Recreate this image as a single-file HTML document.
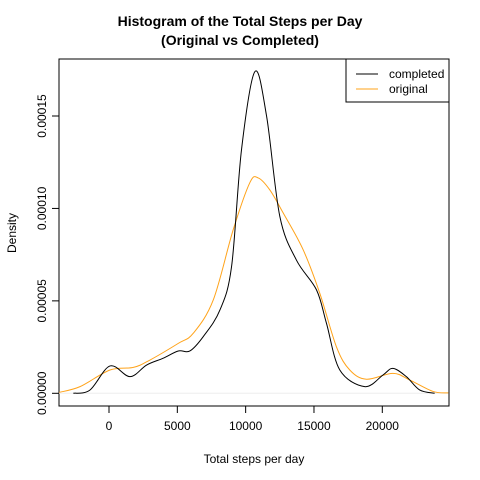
<!DOCTYPE html>
<html><head><meta charset="utf-8"><style>
body{margin:0;background:#fff}
svg{display:block;font-family:"Liberation Sans",Arial,sans-serif}
</style></head><body>
<svg id="c" width="480" height="480" viewBox="0 0 480 480">
<text x="240" y="26" text-anchor="middle" font-size="14" font-weight="bold">Histogram of the Total Steps per Day</text>
<text x="240" y="45" text-anchor="middle" font-size="14" font-weight="bold">(Original vs Completed)</text>
<rect x="59" y="59" width="390" height="347" fill="none" stroke="#000"/>
<g id="xaxis"></g>
<g id="yaxis"></g>
<g id="series"></g>
<text x="254" y="463" text-anchor="middle" font-size="12">Total steps per day</text>
<text transform="translate(16,233) rotate(-90)" text-anchor="middle" font-size="12">Density</text>
<g>
<rect x="346" y="59" width="103" height="43" fill="#fff" stroke="#000"/>
<line x1="356" y1="74" x2="378" y2="74" stroke="#000"/>
<text x="389" y="78" font-size="12">completed</text>
<line x1="356" y1="89" x2="378" y2="89" stroke="#ffa31a"/>
<text x="389" y="93" font-size="12">original</text>
</g>
</svg>
<script>
const xTicks=[0,5000,10000,15000,20000];
const yTicks=[0,0.00005,0.0001,0.00015];
const yTickLabels=["0.00000","0.00005","0.00010","0.00015"];
const completedX=[-2610,-1389,73,1535,2753,3970,5070,5920,6900,8115,8970,9700,10675,11530,12500,13720,15180,15910,16890,18710,20050,20780,21760,22730,23830];
const completedY=[0,0.18,1.48,0.9,1.53,1.9,2.29,2.29,3.07,4.5,6.86,13.2,17.4,15.0,9.57,7.2,5.6,3.8,1.26,0.36,0.99,1.35,0.9,0.18,0];
const originalX=[-3650,-2120,73,1780,3000,5070,6170,7630,9090,10310,10920,11770,12750,14210,15430,16650,17620,18840,20780,22000,23710,24830];
const originalY=[0.05,0.36,1.26,1.4,1.8,2.7,3.25,5.05,8.85,11.4,11.65,11.0,9.75,7.76,5.4,2.5,1.26,0.76,1.08,0.72,0.1,0.02];
const NS="http://www.w3.org/2000/svg";
function sx(v){return 109+(v-0)*(382.3-109)/20000;}
function sy(d){return 393.3-d*(393.3-116)/0.00015;}
function mk(t,a,p){const e=document.createElementNS(NS,t);for(const k in a)e.setAttribute(k,a[k]);p.appendChild(e);return e;}
const xa=document.getElementById('xaxis'),ya=document.getElementById('yaxis'),sg=document.getElementById('series');
mk('line',{x1:sx(0),x2:sx(20000),y1:406,y2:406,stroke:'#000'},xa);
xTicks.forEach(v=>{const l=mk('line',{x1:sx(v),x2:sx(v),y1:406,y2:413,stroke:'#000'},xa);


const t=mk('text',{x:sx(v),y:430,'text-anchor':'middle','font-size':12},xa);t.textContent=v;

});
mk('line',{x1:59,x2:59,y1:sy(0),y2:sy(0.00015),stroke:'#000'},ya);
yTicks.forEach((v,i)=>{const l=mk('line',{x1:52,x2:59,y1:sy(v),y2:sy(v),stroke:'#000'},ya);


const y=sy(v);const t=mk('text',{x:0,y:0,'text-anchor':'middle','font-size':12,transform:`translate(46,${y}) rotate(-90)`},ya);t.textContent=yTickLabels[i];

});
const base=mk('line',{x1:sx(-3650),x2:sx(24830),y1:sy(0),y2:sy(0),stroke:'#eee'},sg);


function path(xs,ys){const p=xs.map((x,i)=>[sx(x),sy(ys[i]*1e-5)]);let d=`M${p[0][0]},${p[0][1]}`;
for(let i=0;i<p.length-1;i++){const p0=p[i-1]||p[i],p1=p[i],p2=p[i+1],p3=p[i+2]||p2;
d+=` C${p1[0]+(p2[0]-p0[0])/6},${p1[1]+(p2[1]-p0[1])/6} ${p2[0]-(p3[0]-p1[0])/6},${p2[1]-(p3[1]-p1[1])/6} ${p2[0]},${p2[1]}`;}return d;}
const po=mk('path',{d:path(originalX,originalY),fill:'none',stroke:'#ffa31a','stroke-width':1},sg);


const pc=mk('path',{d:path(completedX,completedY),fill:'none',stroke:'#000','stroke-width':1},sg);


</script>
</body></html>
